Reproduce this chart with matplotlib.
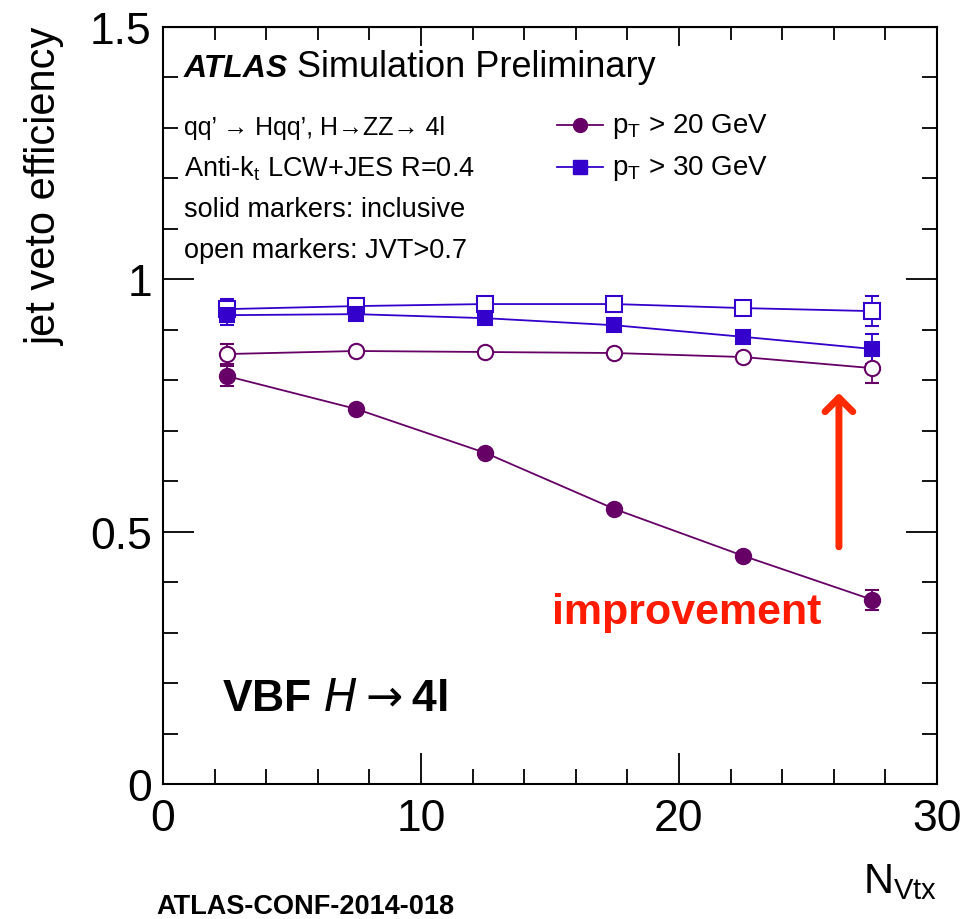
import matplotlib.pyplot as plt
import numpy as np

plt.rcParams['font.family'] = ['Liberation Sans', 'DejaVu Sans']

# data
nvtx = [2.5, 7.5, 12.5, 17.5, 22.5, 27.5]
eff20 = [0.808, 0.743, 0.656, 0.545, 0.452, 0.365]
eff20_err = [0.02, 0.006, 0.006, 0.006, 0.006, 0.02]
eff20_jvt = [0.852, 0.858, 0.856, 0.854, 0.846, 0.824]
eff20_jvt_err = [0.02, 0.005, 0.005, 0.005, 0.006, 0.03]
eff30 = [0.929, 0.931, 0.923, 0.909, 0.886, 0.862]
eff30_err = [0.02, 0.005, 0.005, 0.005, 0.006, 0.03]
eff30_jvt = [0.941, 0.947, 0.951, 0.951, 0.943, 0.937]
eff30_jvt_err = [0.02, 0.004, 0.004, 0.004, 0.005, 0.03]

purple = '#660066'
blue = '#3300cc'

fig = plt.figure(figsize=(9.61, 9.2), dpi=100)
ax = fig.add_axes([0.1696, 0.1467, 0.8054, 0.8229])

def draw(y, err, col, mk, filled, ms):
    ax.errorbar(nvtx, y, yerr=err, color=col, lw=1.3, marker=mk, ms=ms,
                mfc=col if filled else 'white', mec=col, mew=1.5,
                capsize=5, elinewidth=1.3, capthick=1.3)

draw(eff20_jvt, eff20_jvt_err, purple, 'o', False, 11)
draw(eff20, eff20_err, purple, 'o', True, 11)
draw(eff30_jvt, eff30_jvt_err, blue, 's', False, 11)
draw(eff30, eff30_err, blue, 's', True, 10)

ax.set_xlim(0, 30)
ax.set_ylim(0, 1.5)
ax.set_xticks([0, 10, 20, 30])
ax.set_xticks(np.arange(0, 30.1, 2), minor=True)
ax.set_yticks([0, 0.5, 1, 1.5])
ax.set_yticklabels(['0', '0.5', '1', '1.5'])
ax.set_yticks(np.arange(0, 1.51, 0.1), minor=True)
ax.tick_params(which='both', direction='in', right=True, width=1.3)
ax.tick_params(which='major', length=22, labelsize=32, pad=8)
ax.tick_params(which='minor', length=11)
ax.tick_params(axis='x', which='major', pad=10)
for s in ax.spines.values():
    s.set_linewidth(1.5)

# shorter ticks along the top edge
top = ax.secondary_xaxis('top')
top.set_xticks([0, 10, 20, 30])
top.set_xticks(np.arange(0, 30.1, 2), minor=True)
top.tick_params(which='both', direction='in', labeltop=False, width=1.3)
top.tick_params(which='major', length=14)
top.tick_params(which='minor', length=9)

ax.set_ylabel('jet veto efficiency', fontsize=30, loc='top', labelpad=18)
ax.set_xlabel(r'N$_{\mathregular{Vtx}}$', fontsize=30, loc='right', labelpad=16)

ax.text(0.027, 0.935, 'ATLAS', transform=ax.transAxes, fontsize=23,
        fontweight='bold', style='italic')
ax.text(0.173, 0.935, 'Simulation Preliminary', transform=ax.transAxes, fontsize=26)

info = ["qq\u2019 \u2192 Hqq\u2019, H\u2192ZZ\u2192 4l",
        r"Anti-k$_\mathregular{t}$ LCW+JES R=0.4",
        "solid markers: inclusive",
        "open markers: JVT>0.7"]
for i, t in enumerate(info):
    ax.text(0.027, 0.868 - i * 0.054, t, transform=ax.transAxes,
            fontsize=18 if i == 0 else 19.5, va='center')

# legend entries
leg = [(purple, 'o', r'p$_\mathregular{T}$ > 20 GeV'),
       (blue, 's', r'p$_\mathregular{T}$ > 30 GeV')]
for i, (c, m, lab) in enumerate(leg):
    yy = 0.8705 - i * 0.0555
    ax.plot([0.509, 0.568], [yy, yy], color=c, lw=1.3, transform=ax.transAxes)
    ax.plot([0.539], [yy], marker=m, color=c, ms=10, transform=ax.transAxes)
    ax.text(0.58, yy, lab, transform=ax.transAxes, fontsize=20, va='center')

ax.annotate('', xy=(26.2, 0.775), xytext=(26.2, 0.47),
            arrowprops=dict(arrowstyle='->,head_length=0.5,head_width=0.5',
                            color='#ff2a00', lw=5, mutation_scale=20,
                            shrinkA=0, shrinkB=0))
ax.text(20.3, 0.34, 'improvement', color='#ff1a00', fontsize=31,
        fontweight='bold', ha='center', va='center')
ax.text(2.3, 0.17, r'VBF $\mathit{H}$$\rightarrow$4l', fontsize=32,
        fontweight='bold', va='center')

fig.text(0.163, 0.006, 'ATLAS-CONF-2014-018', fontsize=19.5, fontweight='bold')

fig.savefig('out.png', dpi=100)
